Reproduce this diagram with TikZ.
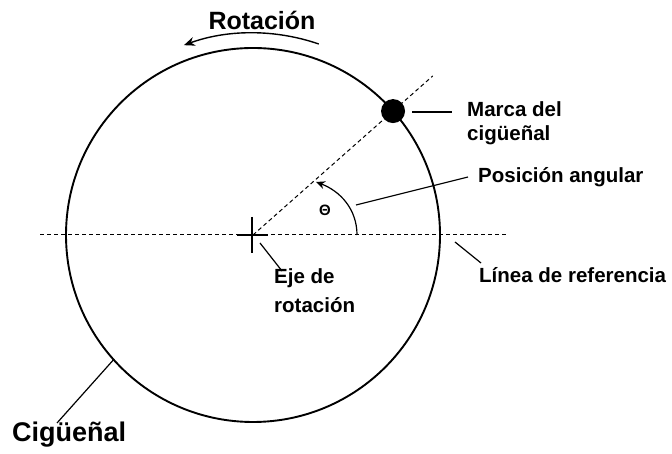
\documentclass[tikz,border=0pt]{standalone}
\usepackage{fontspec}
\setmainfont{Liberation Sans}
\usetikzlibrary{arrows.meta,calc}
\begin{document}
\begin{tikzpicture}[x=1pt,y=1pt,
  lbl/.style={font=\bfseries\fontsize{20.5}{24}\selectfont, inner sep=0pt, align=left},
  big/.style={font=\bfseries\fontsize{25}{28}\selectfont, inner sep=0pt},
  leader/.style={line width=1.2pt},
  dsh/.style={line width=1pt, dash pattern=on 4pt off 3pt},
  ring/.style={line width=1.9pt}]
\useasboundingbox (0,0) rectangle (672,454);
\coordinate (C) at (253,219);
% crankshaft circle
\draw[ring] (C) circle[radius=187];
% reference line
\coordinate (refL) at (40,219);
\coordinate (refR) at (508,219);
\draw[dsh] (refL) -- (refR);
% radial line
\coordinate (radEnd) at ($(C)+(41.5:240)$);
\draw[dsh] (C) -- (radEnd);
% axis cross
\coordinate (cxT) at (252,237); \coordinate (cxB) at (252,201);
\coordinate (cxL) at (237,219); \coordinate (cxR) at (268,219);
\draw[line width=1.3pt] (cxT) -- (cxB);
\draw[line width=1.3pt] (cxL) -- (cxR);
% mark
\node[circle, fill=black, minimum size=24pt, inner sep=0pt] (mark) at ($(C)+(41.5:187)$) {};
% angle arc
\coordinate (a0) at (357,219);
\coordinate (a1) at (316,272);
\draw[line width=1.2pt, -{Stealth[length=9pt,width=8pt]}] (a0) .. controls (357,245) and (340,263) .. (a1);
\node[font=\bfseries\fontsize{15}{15}\selectfont, inner sep=0pt] (theta) at (325,244) {Θ};
% rotation arrow
\draw[line width=1.4pt, -{Stealth[length=11pt,width=9pt]}] ($(C)+(71:202)$) arc[start angle=71, end angle=110, radius=202];
\node[big] (rot) at (262,434) {Rotación};
% labels
\node[lbl, anchor=west] (marca) at (467,330.5) {Marca del\\cigüeñal};
\coordinate (mL1) at (412,342); \coordinate (mL2) at (452,342);
\draw[leader] (mL1) -- (mL2);
\node[lbl, anchor=west] (pos) at (478,277) {Posición angular};
\coordinate (pL1) at (356,249); \coordinate (pL2) at (468,277);
\draw[leader] (pL1) -- (pL2);
\node[lbl, anchor=west] (linea) at (479,179) {Línea de referencia};
\coordinate (lL1) at (455,212); \coordinate (lL2) at (481,191);
\draw[leader] (lL1) -- (lL2);
\node[lbl, anchor=north west, font=\bfseries\fontsize{20.5}{29}\selectfont] (eje) at (274,186) {Eje de\\rotación};
\coordinate (eL1) at (260,211); \coordinate (eL2) at (282,183);
\draw[leader] (eL1) -- (eL2);
\node[font=\bfseries\fontsize{27}{30}\selectfont, inner sep=0pt, anchor=west] (cig) at (12,19) {Cigüeñal};
\coordinate (cL1) at (57,31);
\draw[leader] (cL1) -- ($(C)+(221.8:187)$);
\end{tikzpicture}
\end{document}
